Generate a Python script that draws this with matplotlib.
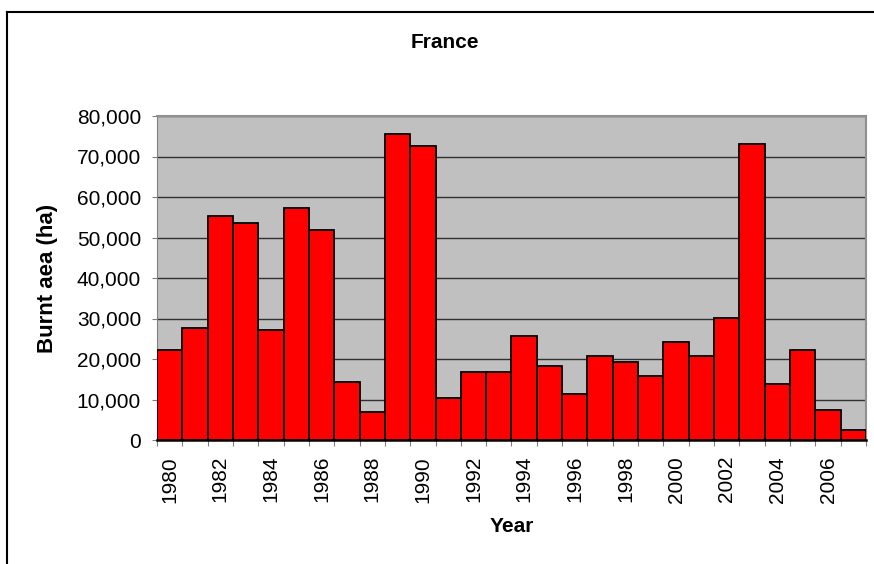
import matplotlib
matplotlib.use("Agg")
import matplotlib.pyplot as plt
from matplotlib.ticker import FuncFormatter, MultipleLocator
from matplotlib.lines import Line2D

years = list(range(1980, 2008))
burnt_area = [22200, 27600, 55200, 53700, 27100, 57200, 51800, 14200, 6900,
              75500, 72500, 10300, 16700, 16800, 25700, 18300, 11300, 20700,
              19200, 15800, 24200, 20700, 30100, 73100, 13800, 22300, 7400, 2400]
label_years = [y for y in years if y % 2 == 0]

plt.rcParams['font.family'] = ['Liberation Sans', 'DejaVu Sans']

fig = plt.figure(figsize=(8.74, 5.64), dpi=100)
W, H = 874, 564
ax_l, ax_r, ax_t, ax_b = 157, 866, 116, 440
ax = fig.add_axes([ax_l / W, 1 - ax_b / H, (ax_r - ax_l) / W, (ax_b - ax_t) / H])
ax.set_facecolor('#C0C0C0')

idx = list(range(len(years)))
ax.bar(idx, burnt_area, width=1.0, color='#FF0000', edgecolor='black',
       linewidth=1.3, zorder=3)

ax.set_xlim(-0.5, len(years) - 0.5)
ax.set_ylim(0, 80000)
ax.yaxis.set_major_locator(MultipleLocator(10000))
ax.yaxis.set_major_formatter(FuncFormatter(lambda v, p: f"{int(v):,}"))
ax.grid(axis='y', color='#303030', linewidth=1.0, zorder=1)
ax.set_axisbelow(True)

# ticks at category boundaries, labels at even years
ax.set_xticks([i - 0.5 for i in range(len(years) + 1)], minor=False)
ax.set_xticklabels([])
ax.set_xticks([years.index(y) for y in label_years], minor=True)
ax.set_xticklabels([str(y) for y in label_years], minor=True, rotation=90,
                   fontsize=15)
ax.tick_params(axis='x', which='minor', length=0, pad=11.5)
ax.tick_params(axis='x', which='major', length=4.3, color='#808080', direction='out')
ax.tick_params(axis='y', length=3.6, color='#808080', direction='out',
               labelsize=15, pad=7.9)

for s in ['top', 'right']:
    ax.spines[s].set_color('#909090')
    ax.spines[s].set_linewidth(1.5)
ax.spines['left'].set_color('#808080')
ax.spines['bottom'].set_color('black')
ax.spines['bottom'].set_linewidth(1.8)

ax.set_xlabel('Year', fontsize=15, fontweight='bold')
ax.set_ylabel('Burnt aea (ha)', fontsize=16, fontweight='bold')
ax.xaxis.set_label_coords(0.5, (ax_b - 527) / (ax_b - ax_t))
ax.xaxis.label.set_va('center')
ax.yaxis.set_label_coords((48 - ax_l) / (ax_r - ax_l), 0.5)
ax.yaxis.label.set_va('center')
fig.text(445 / W, 1 - 43 / H, 'France', ha='center', va='center',
         fontsize=15, fontweight='bold')

# chart border
fig.add_artist(Line2D([7 / W, 7 / W], [0, 1 - 12 / H], transform=fig.transFigure,
                      color='black', linewidth=1.5))
fig.add_artist(Line2D([7 / W, 1], [1 - 12 / H, 1 - 12 / H], transform=fig.transFigure,
                      color='black', linewidth=1.5))

fig.savefig('out.png', dpi=100)
